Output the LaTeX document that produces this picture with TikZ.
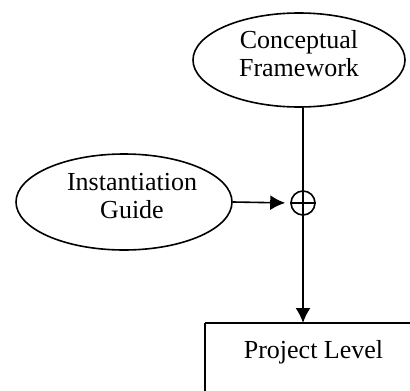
\documentclass[tikz,border=0pt]{standalone}
\usepackage{fontspec}
\setmainfont{Liberation Serif}
\usetikzlibrary{shapes.geometric,arrows.meta}
\begin{document}
\begin{tikzpicture}[x=1pt,y=-1pt,
  line width=1.6pt,
  oval/.style={draw,ellipse,inner sep=0pt},
  caption/.style={align=center,font=\fontsize{26}{28}\selectfont,inner sep=0pt},
  flow/.style={-{Latex[length=15pt,width=15pt]}}]
\useasboundingbox (0,0) rectangle (410,391);
\begin{scope}
\clip (0,0) rectangle (410,391);
% ellipses
\node[oval,minimum width=212pt,minimum height=94pt] (cf) at (299,60) {};
\node[caption] at (299,54) {Conceptual\\Framework};
\node[oval,minimum width=216pt,minimum height=96pt] (ig) at (124,202) {};
\node[caption] at (132,196) {Instantiation\\Guide};
% combining operator
\node[draw,circle,minimum size=24pt,inner sep=0pt] (op) at (303,203) {};
\draw (op.west) -- (op.east);
% target box, running past the right and lower edges
\draw (205,323) coordinate (pl) -- (430,323) (205,323) -- (205,420);
\node[caption] (plt) at (313.5,352) {Project Level};
% connectors
\draw[flow] (cf.south -| op.center) -- (op.center |- pl);
\draw[flow,shorten >=5pt] (ig.east) -- (op.west);
\end{scope}
\end{tikzpicture}
\end{document}
